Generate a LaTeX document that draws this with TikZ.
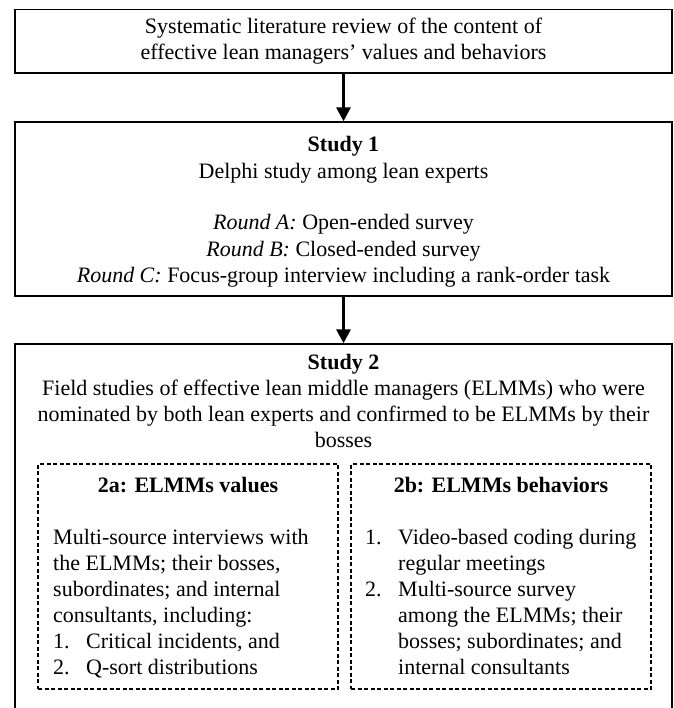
\documentclass[tikz,border=0pt]{standalone}
\usepackage{fontspec}
\setmainfont{Liberation Serif}
\usetikzlibrary{arrows.meta}
\begin{document}
\begin{tikzpicture}[x=1pt,y=-1pt,
  box/.style={draw=black,line width=1.4pt,rectangle,inner sep=0pt},
  dbox/.style={draw=black,line width=1.1pt,dash pattern=on 4pt off 2.5pt,rectangle,inner sep=0pt},
  txt/.style={inner sep=0pt,font=\fontsize{22}{26}\selectfont,anchor=base},
  ltxt/.style={txt,anchor=base west,align=left},
  flow/.style={line width=3pt,-{Triangle[width=14pt,length=14pt]}}]
\clip (0,0) rectangle (673,708);
\fill[white] (0,0) rectangle (673,708);
% boxes
\node[box,minimum width=657pt,minimum height=63.5pt] (lit) at (343.5,41.25) {};
\node[box,minimum width=657pt,minimum height=174pt] (s1) at (343.5,209) {};
\node[box,minimum width=657pt,minimum height=416pt] (s2) at (343.5,552) {};
\node[dbox,minimum width=300pt,minimum height=225pt] (va) at (188,576.5) {};
\node[dbox,minimum width=300pt,minimum height=225pt] (vb) at (501,576.5) {};
% arrows
\draw[flow] (lit.south) -- (s1.north);
\draw[flow] (s1.south) -- (s2.north);
% texts (base anchor = baseline of the last line)
\node[txt,align=center] (tlit) at (343.5,60)
  {Systematic literature review of the content of\\effective lean managers’ values and behaviors};
\node[txt,align=center] (ts1) at (343.5,282)
  {\textbf{Study 1}\\Delphi study among lean experts\\[26pt]
   \textit{Round A:} Open-ended survey\\
   \textit{Round B:} Closed-ended survey\\
   \textit{Round C:} Focus-group interview including a rank-order task};
\node[txt,align=center] (ts2) at (343.5,447)
  {\textbf{Study 2}\\Field studies of effective lean middle managers (ELMMs) who were\\
   nominated by both lean experts and confirmed to be ELMMs by their\\bosses};
\node[txt] (ha) at (188,492) {\textbf{2a: ELMMs values}};
\node[txt] (hb) at (501,492) {\textbf{2b: ELMMs behaviors}};
\node[ltxt] (ba) at (53,674)
  {Multi-source interviews with\\
   the ELMMs; their bosses,\\
   subordinates; and internal\\
   consultants, including:\\
   \makebox[33pt][l]{1.}Critical incidents, and\\
   \makebox[33pt][l]{2.}Q-sort distributions};
\node[ltxt] (bb) at (365,674)
  {\makebox[33pt][l]{1.}Video-based coding during\\
   \hspace*{33pt}regular meetings\\
   \makebox[33pt][l]{2.}Multi-source survey\\
   \hspace*{33pt}among the ELMMs; their\\
   \hspace*{33pt}bosses; subordinates; and\\
   \hspace*{33pt}internal consultants};
\end{tikzpicture}
\end{document}
